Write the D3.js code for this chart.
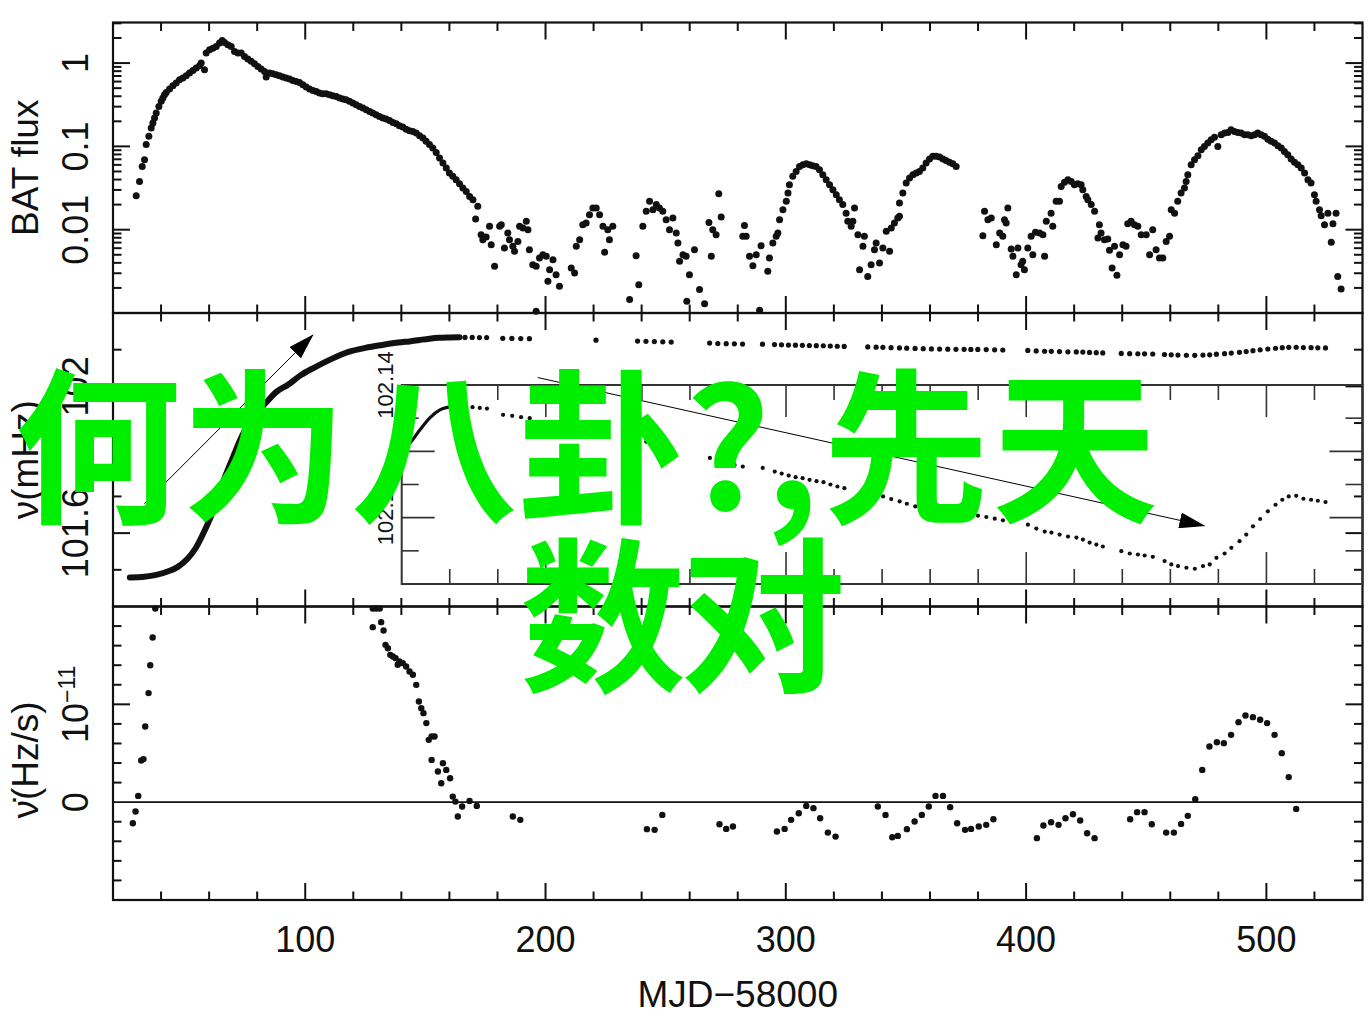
<!DOCTYPE html>
<html><head><meta charset="utf-8">
<script src="https://cdn.jsdelivr.net/npm/d3@7"></script>
<style>body{margin:0;background:#fff}svg{display:block}</style>
</head><body>
<svg id="c" width="1369" height="1017"></svg>
<script>
// ---------------- DATA ----------------
const xDomain = [20, 540];
const xTickLabels = [100, 200, 300, 400, 500];
const xTitle = "MJD\u221258000";

// Panel 1: BAT flux (log)
const batDay = [29.65,31.04,32.15,33.12,33.81,34.92,35.9,36.59,37.28,37.98,39.09,40.06,40.75,41.44,42.14,43.53,44.91,46.3,47.69,49.07,50.46,51.85,53.23,54.62,56.01,56.7,58.09,58.78,60.17,61.56,62.95,64.33,65.44,66.41,67.8,69.19,70.57,71.96,73.35,74.74,76.12,77.51,78.9,80.29,81.67,83.06,83.75,85.14,86.53,87.91,89.3,90.69,92.07,93.46,94.85,96.24,97.62,99.01,100.4,101.8,103.2,104.6,105.9,107.3,108.7,110.1,111.5,112.9,114.3,115.7,117.0,118.4,119.8,121.2,122.6,124.0,125.4,126.8,128.1,129.5,130.9,132.3,133.7,135.1,136.5,137.9,139.2,140.6,142.0,143.4,144.8,146.2,147.6,149.0,150.3,151.7,153.1,154.5,155.9,157.3,158.7,160.0,161.4,162.8,164.2,
165.6,167.0,168.4,169.8,171.8,170.9,173.2,173.9,175.3,176.7,177.4,178.8,180.9,181.6,182.9,184.3,185.0,186.4,187.1,188.5,189.2,190.6,192.0,192.7,193.3,194.7,196.1,197.5,198.9,200.3,201.0,201.7,203.1,204.4,205.8,196.1,210.7,212.1,212.8,214.2,215.5,216.9,218.3,219.7,221.1,222.5,223.9,224.6,225.9,226.6,228.0,235.0,237.7,238.8,240.5,241.9,243.3,244.7,246.1,247.4,248.8,250.2,251.6,253.0,254.4,255.1,255.8,257.2,258.5,258.8,259.9,262.0,264.1,266.2,268.0,269.0,269.6,271.0,272.1,273.1,282.1,282.8,283.5,284.9,286.3,287.7,289.1,289.7,292.5,293.2,294.6,296.0,296.7,297.4,298.8,300.2,300.9,301.5,302.9,304.3,305.7,307.1,308.5,309.9,311.2,312.6,314.0,315.4,316.8,318.2,319.6,321.0,322.3,323.7,325.1,325.8,327.2,328.6,327.9,330.0,330.7,332.1,332.7,334.1,335.5,336.9,337.6,339.0,340.4,341.8,343.2,343.9,345.2,346.6,347.3,
347.3,348.7,350.1,351.5,352.9,354.3,355.6,357.0,358.4,359.8,361.2,362.6,364.0,365.4,366.7,368.1,369.5,370.9,382.0,382.7,384.1,385.5,387.6,389.0,390.3,391.0,392.4,391.7,393.8,394.5,395.9,396.6,397.9,399.3,398.6,400.7,402.1,402.8,403.9,405.6,407.0,407.7,408.4,410.4,411.1,412.5,413.9,414.6,416.0,417.4,418.8,420.1,421.5,422.9,423.6,425.0,425.7,427.1,428.5,430.5,431.2,429.9,432.6,434.0,434.7,435.8,436.8,437.8,438.9,440.3,441.6,442.3,443.7,445.1,446.5,447.9,450.0,451.4,452.7,454.1,455.5,456.9,458.3,459.7,460.4,461.8,463.1,464.5,465.9,466.6,467.3,468.7,470.1,471.5,472.9,474.2,475.6,477.0,478.4,479.8,481.2,482.6,484.0,485.3,486.7,488.1,489.5,490.9,492.3,493.7,495.1,496.4,497.8,499.2,500.6,502.0,503.4,504.8,506.2,507.5,508.9,510.3,511.7,513.1,514.5,515.9,517.3,518.6,520.0,520.7,522.1,522.8,524.2,525.6,527.7,527.0,529.0,529.7,531.1];
const batFlux = [0.0256,0.0380,0.0575,0.0692,0.105,0.132,0.166,0.191,0.219,0.251,0.302,0.347,0.380,0.417,0.445,0.488,0.535,0.575,0.631,0.661,0.705,0.759,0.817,0.871,0.929,1.0,0.832,1.32,1.45,1.51,1.58,1.74,1.87,1.77,1.66,1.58,1.38,1.32,1.32,1.20,1.12,1.05,0.982,0.912,0.847,0.794,0.679,0.759,0.745,0.724,0.705,0.679,0.661,0.643,0.619,0.603,0.586,0.550,0.515,0.488,0.470,0.457,0.437,0.429,0.429,0.417,0.406,0.398,0.380,0.370,0.363,0.347,0.331,0.316,0.302,0.288,0.275,0.263,0.251,0.240,0.229,0.219,0.213,0.205,0.194,0.187,0.177,0.171,0.161,0.154,0.151,0.145,0.134,0.126,0.115,0.105,0.0955,0.0847,0.0724,0.0631,0.0550,0.0479,0.0437,0.0398,0.0356,
0.0316,0.0288,0.0251,0.0229,0.0191,0.0134,0.00871,0.00759,0.00817,0.0110,0.00661,0.00363,0.0110,0.0115,0.00603,0.00912,0.00759,0.00631,0.00550,0.00724,0.0110,0.0105,0.0126,0.0100,0.00575,0.00380,0.00363,0.00457,0.00501,0.00479,0.00240,0.00331,0.00437,0.00288,0.00209,0.00105,0.00347,0.00302,0.00631,0.00759,0.0115,0.0120,0.0151,0.0182,0.0182,0.0151,0.0110,0.00535,0.0100,0.00759,0.0110,0.00145,0.00488,0.00219,0.0110,0.0166,0.0219,0.0174,0.0200,0.0182,0.0166,0.0132,0.0100,0.0138,0.00912,0.00692,0.00417,0.00501,0.00479,0.00138,0.00288,0.00575,0.00191,0.00129,0.0122,0.00479,0.0100,0.00871,0.0270,0.0142,0.00832,0.0112,0.00832,0.00479,0.00370,0.00501,0.00108,0.00643,0.00316,0.00457,0.00692,0.00832,0.00912,0.0132,0.0174,0.0219,0.0275,0.0347,0.0437,0.0501,0.0575,0.0603,0.0619,0.0603,0.0586,0.0575,0.0525,0.0457,0.0398,0.0347,0.0302,0.0263,0.0229,0.0200,0.0158,0.0126,0.0110,0.0182,0.0126,0.00871,0.00331,0.00631,0.00832,0.00275,0.00380,0.00575,0.00692,0.00398,0.00603,0.00955,0.00550,0.0105,0.0120,0.0138,0.0209,
0.0145,0.0275,0.0363,0.0417,0.0457,0.0479,0.0501,0.0550,0.0631,0.0705,0.0759,0.0759,0.0745,0.0705,0.0679,0.0643,0.0619,0.0575,0.00847,0.0166,0.0132,0.0138,0.00661,0.00912,0.00832,0.0132,0.0182,0.0120,0.00586,0.00479,0.00288,0.00603,0.00380,0.00331,0.00417,0.00603,0.00832,0.00501,0.00933,0.00912,0.00871,0.00479,0.0126,0.0158,0.0110,0.0219,0.0219,0.0331,0.0370,0.0398,0.0380,0.0347,0.0356,0.0347,0.0302,0.0251,0.0229,0.0200,0.0166,0.0115,0.00912,0.00794,0.00759,0.00774,0.00565,0.00347,0.00631,0.00283,0.00501,0.00661,0.00631,0.0118,0.0126,0.0115,0.0110,0.00871,0.00871,0.00501,0.0100,0.00575,0.00457,0.00457,0.00724,0.00832,0.0174,0.0158,0.0219,0.0275,0.0316,0.0380,0.0457,0.0603,0.0692,0.0773,0.0912,0.100,0.110,0.120,0.129,0.100,0.138,0.145,0.147,0.158,0.151,0.147,0.145,0.138,0.138,0.134,0.138,0.145,0.138,0.132,0.122,0.115,0.110,0.102,0.0955,0.0871,0.0794,0.0705,0.0643,0.0603,0.0550,0.0479,0.0398,0.0363,0.0263,0.0219,0.0174,0.0147,0.0115,0.0158,0.0118,0.00705,0.0158,0.00275,0.00194];
const batTickLabels = [["0.01",0.01],["0.1",0.1],["1",1]];

// Panel 2: spin frequency nu (mHz)
const nuCurveDay = [27,33,38,43,47,51,54.5,58,61,64,67,70,73,76,80,84,88,93,98,104,111,118,125,132,137,140,143.4,147.6,151.7,155.9,160,164.2];
const nuCurveVal = [101.479,101.481,101.486,101.496,101.508,101.530,101.56,101.605,101.65,101.705,101.76,101.808,101.855,101.895,101.93,101.958,101.985,102.005,102.03,102.052,102.075,102.094,102.105,102.113,102.118,102.1205,102.1225,102.1265,102.1301,102.1325,102.1334,102.134];
const nuDotDay = [166.5,169.5,172.5,175.5,182.2,186.0,189.7,193.3,221.0,238.3,241.8,245.3,248.8,252.3,268.3,271.7,275.2,278.6,282.0,290.3,295.3,298.2,301.1,304.0,306.9,309.8,312.7,315.6,318.5,321.4,324.3,334.1,337.6,340.4,343.8,347.3,350.3,353.8,357.2,360.6,364.0,367.4,370.8,374.2,377.0,379.9,383.4,386.9,390.3,400.7,404.2,407.7,410.5,413.9,417.4,420.9,423.6,426.4,429.2,431.9,439.6,443.1,446.5,449.3,452.7,457.6,460.4,463.2,466.7,470.2,473.6,476.4,479.2,482.6,485.4,488.8,491.6,494.4,497.4,500.6,503.8,506.6,509.3,512.4,515.4,518.6,521.4,524.6];
const nuDotVal = [102.1335,102.1333,102.1331,102.1329,102.1310,102.1307,102.1303,102.1300,102.1260,102.1235,102.1229,102.1220,102.1214,102.1208,102.1180,102.1169,102.1164,102.1159,102.1154,102.1150,102.1139,102.1133,102.1127,102.1122,102.1119,102.1114,102.1110,102.1107,102.1100,102.1094,102.1089,102.1074,102.1069,102.1064,102.1056,102.1049,102.1042,102.1034,102.1028,102.1022,102.1018,102.1014,102.1011,102.1009,102.1007,102.1006,102.1002,102.0997,102.0992,102.0979,102.0967,102.0958,102.0955,102.0949,102.0943,102.0940,102.0934,102.0925,102.0919,102.0913,102.0899,102.0892,102.0889,102.0886,102.0882,102.0869,102.0859,102.0854,102.0849,102.0846,102.0854,102.0859,102.0879,102.0892,102.0909,102.0929,102.0949,102.0974,102.0996,102.1019,102.1039,102.1054,102.1064,102.1066,102.1057,102.1054,102.1051,102.1047];
const nuTickLabels = [["101.6",101.6],["102",102.0]];
const insetTickLabels = [["102.1",102.10],["102.14",102.14]];
// annotation arrows (day, mHz)
const arrows = [[[33.1,101.680],[103.2,102.140]], [[196.8,102.024],[474.2,101.620]]];

// Panel 3: nu-dot (units of 1e-11 Hz/s)
const ndDay = [28.26,29.38,30.5,31.75,32.7,33.4,34.8,35.5,36.5,37.6,128.1,129.5,131.0,128.1,131.6,132.6,133.4,134.4,135.4,136.5,137.6,138.5,139.2,140.6,142.0,143.4,144.8,146.2,147.3,148.3,149.2,150.4,151.4,152.6,153.8,152.6,155.2,156.6,157.3,158.7,160.3,161.4,162.5,163.5,165.3,168.4,171.4,186.4,189.5,242.2,245.4,248.6,272.4,275.2,278.0,296.3,299.5,302.2,305.4,308.5,311.5,314.3,317.5,320.7,338.3,341.5,344.3,346.6,350.4,353.6,356.6,359.5,362.3,365.4,368.4,371.3,374.6,377.1,380.3,383.4,386.4,404.5,407.2,410.4,413.5,416.4,419.5,422.5,425.4,428.5,443.3,446.2,449.3,452.3,458.3,461.5,464.5,467.3,470.4,473.3,476.3,479.4,482.3,485.3,488.4,491.3,494.4,497.4,500.3,503.4,506.4,509.3,512.4];
const ndVal = [-0.215,-0.096,0.064,0.426,0.44,0.773,1.115,1.40,1.683,1.98,1.98,1.98,1.98,1.789,1.84,1.755,1.608,1.574,1.506,1.489,1.472,1.404,1.438,1.421,1.387,1.335,1.302,1.199,1.029,0.961,0.910,0.808,0.637,0.671,0.671,0.432,0.313,0.194,0.399,0.330,0.245,0.057,0.006,-0.147,-0.045,0.013,-0.038,-0.147,-0.181,-0.276,-0.283,-0.13,-0.225,-0.273,-0.249,-0.30,-0.273,-0.181,-0.113,-0.038,-0.061,-0.164,-0.311,-0.352,-0.045,-0.13,-0.358,-0.345,-0.276,-0.198,-0.13,-0.045,0.064,0.064,-0.051,-0.215,-0.283,-0.273,-0.249,-0.232,-0.174,-0.368,-0.239,-0.205,-0.232,-0.164,-0.123,-0.188,-0.317,-0.368,-0.174,-0.102,-0.102,-0.225,-0.311,-0.311,-0.222,-0.14,0.031,0.330,0.569,0.613,0.603,0.688,0.818,0.886,0.869,0.842,0.808,0.688,0.501,0.256,-0.069];

const yTitles = ["BAT flux", "\u03BD(mHz)", "\u03BD\u0307(Hz/s)"];
const overlayLine1 = ["何","为","八","卦","?",",","先","天"];
const overlayLine2 = ["数","对"];

// ---------------- LAYOUT ----------------
const svg = d3.select("#c");
const FONT = "'Liberation Sans', Arial, Helvetica, sans-serif";
const L = 113, R = 1362.5;
const P1 = {top: 22.5, bot: 313}, P2 = {top: 313, bot: 606.5}, P3 = {top: 606.5, bot: 900};
const INS = {left: 401.7, right: R, top: 385, bot: 584};

const x = d3.scaleLinear().domain(xDomain).range([L, R]);
const y1 = d3.scaleLog().domain([0.001, 3.07]).range([P1.bot, P1.top]);
const y2 = d3.scaleLinear().domain([101.4, 102.2]).range([P2.bot, P2.top]);
const y3 = d3.scaleLinear().domain([-1, 2]).range([P3.bot, P3.top]);
const xi = d3.scaleLinear().domain([140, 540]).range([INS.left, INS.right]);
const yi = d3.scaleLinear().domain([102.08, 102.14]).range([INS.bot, INS.top]);

const axes = svg.append("g").attr("stroke", "#111").attr("fill", "none");

function xTicks(sx, top, bot, vals, isMaj, lMaj, lMin, w, col) {
  vals.forEach(v => {
    const len = isMaj(v) ? lMaj : lMin, xx = sx(v);
    axes.append("line").attr("x1", xx).attr("x2", xx).attr("y1", top).attr("y2", top + len).attr("stroke-width", w).attr("stroke", col);
    axes.append("line").attr("x1", xx).attr("x2", xx).attr("y1", bot).attr("y2", bot - len).attr("stroke-width", w).attr("stroke", col);
  });
}
function yTicks(sy, left, right, vals, isMaj, lMaj, lMin, w, col) {
  vals.forEach(v => {
    const len = isMaj(v) ? lMaj : lMin, yy = sy(v);
    axes.append("line").attr("y1", yy).attr("y2", yy).attr("x1", left).attr("x2", left + len).attr("stroke-width", w).attr("stroke", col);
    axes.append("line").attr("y1", yy).attr("y2", yy).attr("x1", right).attr("x2", right - len).attr("stroke-width", w).attr("stroke", col);
  });
}
const near = (a, b) => Math.abs(a - b) < 1e-6;

const xMinor = d3.range(40, 540, 20);
[P1, P2, P3].forEach(p => xTicks(x, p.top, p.bot, xMinor, v => v % 100 === 0, 17, 8.5, 2, "#111"));

const logVals = [];
for (let e = -3; e <= 0; e++) for (let k = 1; k <= 9; k++) { const v = k * Math.pow(10, e); if (v > 0.00101 && v < 3.07) logVals.push(v); }
yTicks(y1, L, R, logVals, v => near(Math.log10(v), Math.round(Math.log10(v))), 17, 8.5, 2, "#111");

yTicks(y2, L, R, d3.range(101.5, 102.15, 0.1), v => near(v, 101.6) || near(v, 102.0), 17, 8.5, 2, "#111");
yTicks(y3, L, R, d3.range(-0.8, 1.9, 0.2).filter(v => !near(v, 0)), v => near(v, 1), 17, 8.5, 2, "#111");

[P1, P2, P3].forEach(p => axes.append("rect").attr("x", L).attr("y", p.top).attr("width", R - L).attr("height", p.bot - p.top).attr("stroke-width", 2.2));
axes.append("line").attr("x1", L).attr("x2", R).attr("y1", y3(0)).attr("y2", y3(0)).attr("stroke-width", 1.8);

// ---------------- DATA MARKS ----------------
const marks = svg.append("g");
marks.append("g").selectAll("circle").data(batDay.map((d, i) => [d, batFlux[i]])).join("circle")
  .attr("cx", d => x(d[0])).attr("cy", d => y1(d[1])).attr("r", 3.5).attr("fill", "#111");

marks.append("path").datum(nuCurveDay.map((d, i) => [d, nuCurveVal[i]]))
  .attr("d", d3.line().x(d => x(d[0])).y(d => y2(d[1])).curve(d3.curveMonotoneX))
  .attr("fill", "none").attr("stroke", "#111").attr("stroke-width", 6).attr("stroke-linecap", "round");
marks.append("g").selectAll("circle").data(nuDotDay.map((d, i) => [d, nuDotVal[i]])).join("circle")
  .attr("cx", d => x(d[0])).attr("cy", d => y2(d[1])).attr("r", 2.6).attr("fill", "#111");

marks.append("g").selectAll("circle").data(ndDay.map((d, i) => [d, ndVal[i]])).join("circle")
  .attr("cx", d => x(d[0])).attr("cy", d => y3(d[1])).attr("r", 3.2).attr("fill", "#111");

// ---------------- INSET ----------------
const inset = svg.append("g");
svg.append("defs").append("clipPath").attr("id", "insclip").append("rect")
  .attr("x", INS.left).attr("y", INS.top).attr("width", INS.right - INS.left).attr("height", INS.bot - INS.top);
inset.append("rect").attr("x", INS.left).attr("y", INS.top).attr("width", INS.right - INS.left).attr("height", INS.bot - INS.top).attr("fill", "#fff");
const ic = inset.append("g").attr("clip-path", "url(#insclip)");
ic.append("path").datum(nuCurveDay.map((d, i) => [d, nuCurveVal[i]]).filter(d => d[0] >= 138))
  .attr("d", d3.line().x(d => xi(d[0])).y(d => yi(d[1])).curve(d3.curveMonotoneX))
  .attr("fill", "none").attr("stroke", "#111").attr("stroke-width", 3.2);
ic.selectAll("circle").data(nuDotDay.map((d, i) => [d, nuDotVal[i]])).join("circle")
  .attr("cx", d => xi(d[0])).attr("cy", d => yi(d[1])).attr("r", 2.1).attr("fill", "#111");
xTicks(xi, INS.top, INS.bot, d3.range(160, 540, 20), v => v % 100 === 0, 32, 15, 1.6, "#333");
yTicks(yi, INS.left, INS.right, d3.range(102.09, 102.135, 0.01), v => near(Math.round(v * 100) % 2, 0), 33, 17, 1.6, "#333");
axes.append("rect").attr("x", INS.left).attr("y", INS.top).attr("width", INS.right - INS.left).attr("height", INS.bot - INS.top).attr("stroke", "#333").attr("stroke-width", 2);
axes.raise();

// ---------------- TEXT ----------------
const txt = svg.append("g").attr("font-family", FONT).attr("fill", "#111");
xTickLabels.forEach(v => txt.append("text").attr("x", x(v)).attr("y", 952).attr("text-anchor", "middle").attr("font-size", 36).text(v));
txt.append("text").attr("x", (L + R) / 2).attr("y", 1007).attr("text-anchor", "middle").attr("font-size", 37).text(xTitle);

function rotLabel(xx, yy, s, size) {
  return txt.append("text").attr("transform", `translate(${xx},${yy}) rotate(-90)`).attr("text-anchor", "middle").attr("font-size", size).text(s);
}
batTickLabels.forEach(([s, v]) => rotLabel(88, y1(v), s, 36));
nuTickLabels.forEach(([s, v]) => rotLabel(88, y2(v), s, 36));
rotLabel(88, y3(0), "0", 36);
const sci = txt.append("text").attr("transform", `translate(88,${y3(1)}) rotate(-90)`).attr("text-anchor", "middle").attr("font-size", 36);
sci.append("tspan").text("10");
sci.append("tspan").attr("font-size", 23).attr("dy", -13).text("\u221211");
insetTickLabels.forEach(([s, v]) => rotLabel(393, yi(v), s, 22));

rotLabel(38, (P1.top + P1.bot) / 2, yTitles[0], 37);
rotLabel(38, (P2.top + P2.bot) / 2, yTitles[1], 37);
rotLabel(38, 760, yTitles[2], 37);

// ---------------- ARROWS ----------------
const defs = svg.select("defs");
defs.append("marker").attr("id", "ah").attr("markerUnits", "userSpaceOnUse").attr("markerWidth", 26).attr("markerHeight", 16)
  .attr("refX", 25).attr("refY", 8).attr("orient", "auto").attr("viewBox", "0 0 26 16")
  .append("path").attr("d", "M0,0 L26,8 L0,16 Z").attr("fill", "#000");
svg.append("g").selectAll("line").data(arrows).join("line")
  .attr("x1", d => x(d[0][0])).attr("y1", d => y2(d[0][1])).attr("x2", d => x(d[1][0])).attr("y2", d => y2(d[1][1]))
  .attr("stroke", "#000").attr("stroke-width", 1).attr("marker-end", "url(#ah)");

// ---------------- OVERLAY TEXT ----------------
const ov = svg.append("g").attr("font-family", "'Noto Sans CJK SC', sans-serif").attr("font-weight", 700)
  .attr("font-size", 166).attr("fill", "#00ee00").attr("text-anchor", "middle");
const line1X = [98, 264, 434, 601, 728, 792, 906, 1075];
overlayLine1.forEach((c, i) => ov.append("text").attr("x", line1X[i]).attr("y", 510).text(c));
const line2X = [603, 763];
overlayLine2.forEach((c, i) => ov.append("text").attr("x", line2X[i]).attr("y", 679).text(c));
</script>
</body></html>
